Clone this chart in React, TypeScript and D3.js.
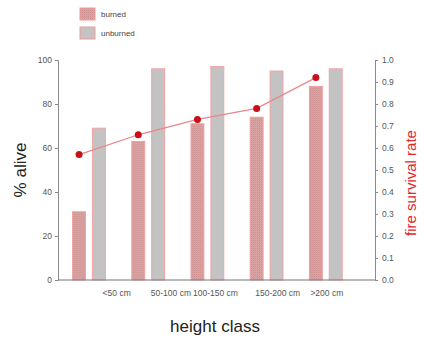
import React, { useEffect, useRef } from 'react';
import * as d3 from 'd3';

// data
const heightClasses = ['<50 cm', '50-100 cm', '100-150 cm', '150-200 cm', '>200 cm'];
const burned = [31, 63, 71, 74, 88];
const unburned = [69, 96, 97, 95, 96];
const survivalRate = [0.57, 0.66, 0.73, 0.78, 0.92];
const leftTicks = [0, 20, 40, 60, 80, 100];
const rightTicks = [0, 0.1, 0.2, 0.3, 0.4, 0.5, 0.6, 0.7, 0.8, 0.9, 1.0];
const seriesNames = ['burned', 'unburned'];

// the category labels in the original sit a bit off their groups
const labelNudge = [30, 19, 2, 5, 1];

const width = 425;
const height = 338;
const plot = { left: 58, right: 375, top: 60, bottom: 280 };

const App = () => {
  const svgRef = useRef(null);

  useEffect(() => {
    const svg = d3.select(svgRef.current);
    svg.selectAll('*').remove();

    const x = d3.scaleBand().domain(heightClasses).range([59.4, 355.4]).padding(0);
    const xSub = d3.scaleBand().domain(seriesNames).range([0, x.bandwidth()])
      .paddingInner(0.35).paddingOuter(0.665);
    const yLeft = d3.scaleLinear().domain([0, 100]).range([plot.bottom, plot.top]);
    const yRight = d3.scaleLinear().domain([0, 1]).range([plot.bottom, plot.top]);

    // fine crosshatch for the burned bars
    const defs = svg.append('defs');
    const pat = defs.append('pattern')
      .attr('id', 'hatch')
      .attr('patternUnits', 'userSpaceOnUse')
      .attr('width', 2).attr('height', 2);
    pat.append('rect').attr('width', 2).attr('height', 2).attr('fill', '#dba6a6');
    pat.append('rect').attr('width', 1).attr('height', 1).attr('fill', '#cc8e8e');
    pat.append('rect').attr('x', 1).attr('y', 1).attr('width', 1).attr('height', 1).attr('fill', '#d59c9c');

    const fontFam = 'Liberation Sans, Arial, sans-serif';

    // bars
    const groups = svg.append('g')
      .selectAll('g')
      .data(heightClasses)
      .join('g')
      .attr('transform', d => `translate(${x(d)},0)`);

    groups.append('rect')
      .attr('x', xSub('burned'))
      .attr('width', xSub.bandwidth())
      .attr('y', (d, i) => yLeft(burned[i]))
      .attr('height', (d, i) => yLeft(0) - yLeft(burned[i]))
      .attr('fill', 'url(#hatch)')
      .attr('stroke', '#eea0a0')
      .attr('stroke-width', 1);

    groups.append('rect')
      .attr('x', xSub('unburned'))
      .attr('width', xSub.bandwidth())
      .attr('y', (d, i) => yLeft(unburned[i]))
      .attr('height', (d, i) => yLeft(0) - yLeft(unburned[i]))
      .attr('fill', '#c3c3c3')
      .attr('stroke', '#f2a4a4')
      .attr('stroke-width', 1);

    // survival rate line
    const px = (i) => x(heightClasses[i]) + xSub('burned') + xSub.bandwidth() / 2;
    const line = d3.line()
      .x((d, i) => px(i))
      .y(d => yRight(d));

    svg.append('path')
      .datum(survivalRate)
      .attr('fill', 'none')
      .attr('stroke', '#e9868c')
      .attr('stroke-width', 1.2)
      .attr('d', line);

    svg.append('g')
      .selectAll('circle')
      .data(survivalRate)
      .join('circle')
      .attr('cx', (d, i) => px(i))
      .attr('cy', d => yRight(d))
      .attr('r', 3.5)
      .attr('fill', '#c8101c');

    // axes
    const axisColor = '#8a8a8a';
    const tickColor = '#555';

    const leftAxis = svg.append('g')
      .attr('transform', `translate(${plot.left},0)`)
      .call(d3.axisLeft(yLeft).tickValues(leftTicks).tickSize(3).tickPadding(3).tickSizeOuter(3));
    const rightAxis = svg.append('g')
      .attr('transform', `translate(${plot.right},0)`)
      .call(d3.axisRight(yRight).tickValues(rightTicks).tickSize(3).tickPadding(4).tickSizeOuter(3)
        .tickFormat(d3.format('.1f')));

    [leftAxis, rightAxis].forEach(a => {
      a.select('.domain').attr('stroke', axisColor);
      a.selectAll('.tick line').attr('stroke', axisColor);
      a.selectAll('.tick text')
        .attr('fill', tickColor)
        .style('font-family', fontFam)
        .style('font-size', '8.5px');
    });

    svg.append('line')
      .attr('x1', plot.left).attr('x2', plot.right)
      .attr('y1', plot.bottom).attr('y2', plot.bottom)
      .attr('stroke', '#777')
      .attr('stroke-width', 1.2);

    // category labels
    svg.append('g')
      .selectAll('text')
      .data(heightClasses)
      .join('text')
      .attr('x', (d, i) => x(d) + xSub('burned') + labelNudge[i])
      .attr('y', 296)
      .attr('fill', tickColor)
      .style('font-family', fontFam)
      .style('font-size', '8.5px')
      .text(d => d);

    // axis titles
    svg.append('text')
      .attr('transform', 'translate(26,170) rotate(-90)')
      .attr('text-anchor', 'middle')
      .attr('fill', '#222')
      .style('font-family', fontFam)
      .style('font-size', '17px')
      .text('% alive');

    svg.append('text')
      .attr('transform', 'translate(416,183) rotate(-90)')
      .attr('text-anchor', 'middle')
      .attr('fill', '#e0282c')
      .style('font-family', fontFam)
      .style('font-size', '15px')
      .text('fire survival rate');

    svg.append('text')
      .attr('x', 215)
      .attr('y', 332)
      .attr('text-anchor', 'middle')
      .attr('fill', '#222')
      .style('font-family', fontFam)
      .style('font-size', '17px')
      .text('height class');

    // legend
    const legend = svg.append('g')
      .selectAll('g')
      .data(seriesNames)
      .join('g')
      .attr('transform', (d, i) => `translate(80,${8 + i * 19})`);

    legend.append('rect')
      .attr('width', 15).attr('height', 12)
      .attr('fill', d => d === 'burned' ? 'url(#hatch)' : '#c3c3c3')
      .attr('stroke', '#f09a9a')
      .attr('stroke-width', 1);

    legend.append('text')
      .attr('x', 21)
      .attr('y', 9)
      .attr('fill', '#444')
      .style('font-family', fontFam)
      .style('font-size', '8px')
      .text(d => d);
  }, []);

  return (
    <svg ref={svgRef} width={width} height={height}
      style={{ position: 'absolute', left: 0, top: 0, background: '#fff' }} />
  );
};

export default App;
